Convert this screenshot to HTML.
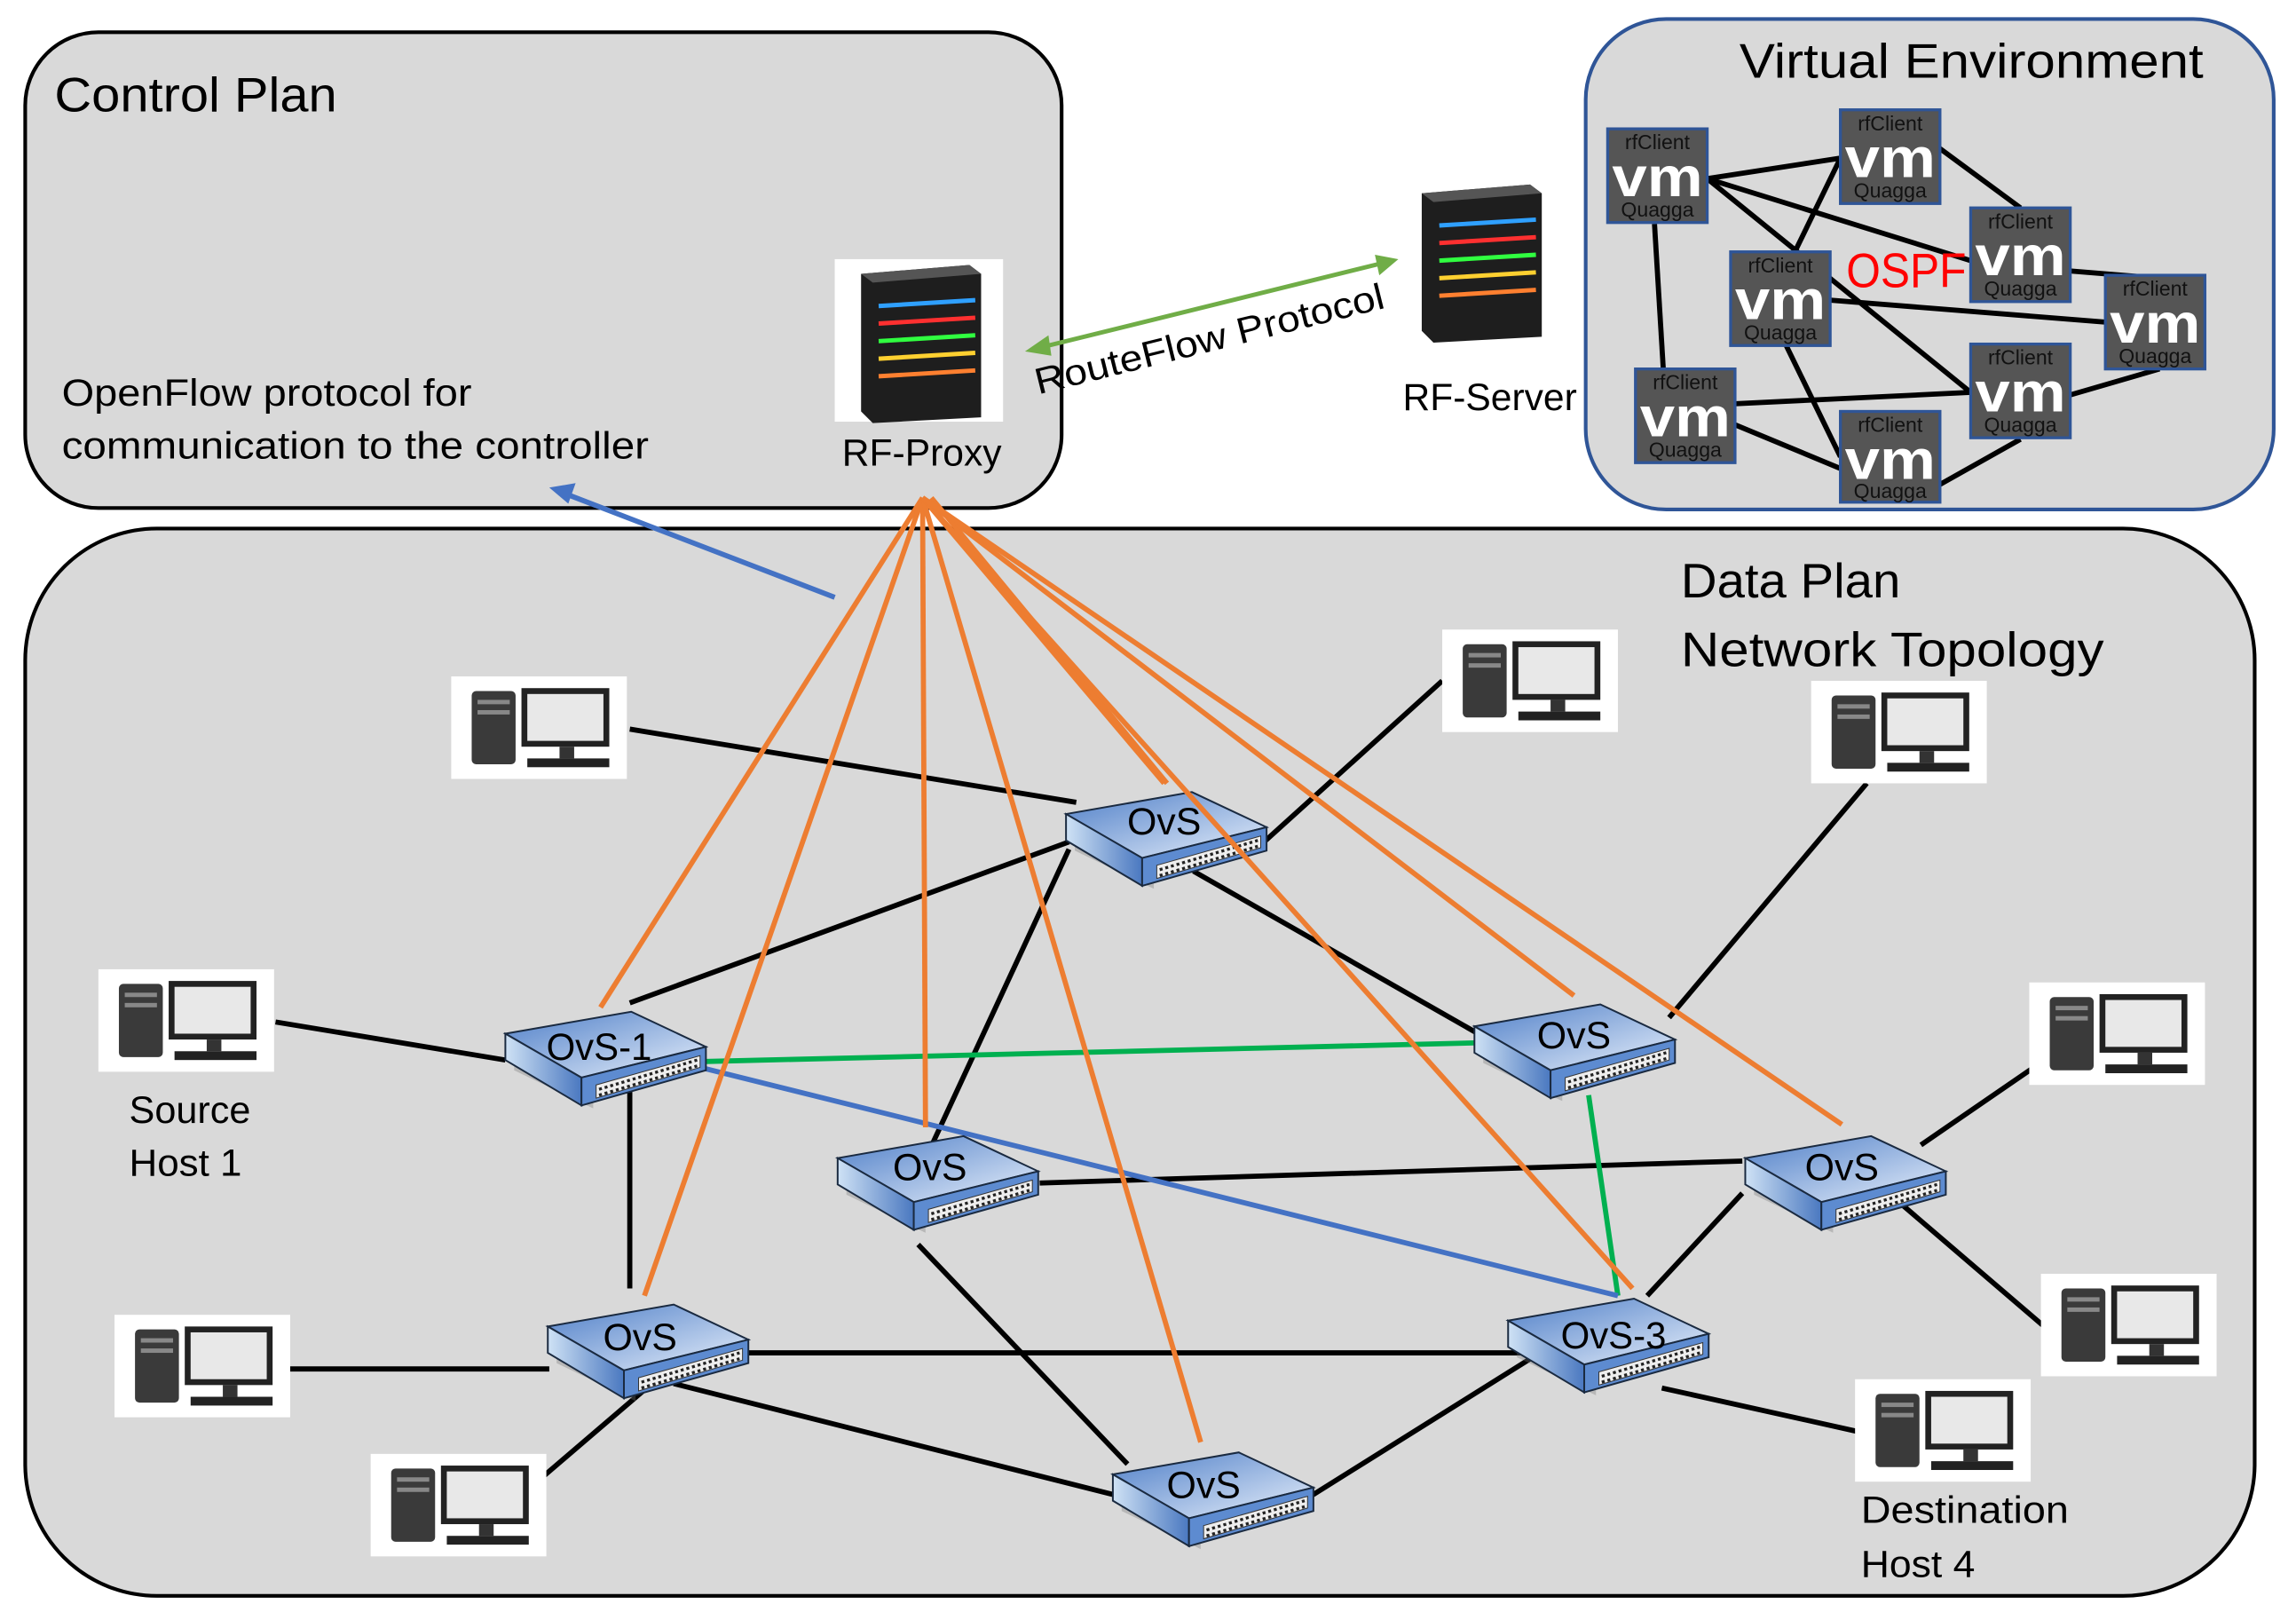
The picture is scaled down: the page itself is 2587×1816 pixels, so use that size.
<!DOCTYPE html>
<html><head><meta charset="utf-8"><style>html,body{margin:0;padding:0;background:#fff}svg{display:block}text{font-family:"Liberation Sans",sans-serif}</style></head>
<body>
<svg width="2587" height="1816" viewBox="0 0 1568 1101" xmlns="http://www.w3.org/2000/svg">
<defs>
<linearGradient id="top" x1="0" y1="0" x2="1" y2="1"><stop offset="0" stop-color="#4f7fc8"/><stop offset="1" stop-color="#e8f0fb"/></linearGradient>
<linearGradient id="side" x1="0" y1="0" x2="1" y2="0"><stop offset="0" stop-color="#cfe2f5"/><stop offset="1" stop-color="#4a78c0"/></linearGradient>
<g id="sw">
<polygon points="6,24 60,56 60,66 6,40" fill="#777" opacity="0.35"/>
<polygon points="0,15 86,0 137,24 52,45" fill="url(#top)" stroke="#1a2a40" stroke-width="1.2"/>
<polygon points="0,15 52,45 52,64 0,33" fill="url(#side)" stroke="#1a2a40" stroke-width="1.2"/>
<polygon points="52,45 137,24 137,40 52,64" fill="#5d8bd0" stroke="#1a2a40" stroke-width="1.2"/>
<polygon points="62,50 133,30 133,38 62,59" fill="#eee" stroke="#333" stroke-width="0.6"/>
<line x1="64" y1="53" x2="131" y2="33" stroke="#222" stroke-width="2" stroke-dasharray="2,2"/>
<line x1="64" y1="57" x2="131" y2="37" stroke="#222" stroke-width="2" stroke-dasharray="2,2"/>
</g>
<g id="host">
<rect x="0" y="0" width="120" height="70" fill="#fff"/>
<rect x="14" y="10" width="30" height="50" rx="3" fill="#3a3a3a"/>
<rect x="18" y="16" width="22" height="3" fill="#888"/><rect x="18" y="23" width="22" height="3" fill="#888"/>
<rect x="48" y="8" width="60" height="40" fill="#222"/>
<rect x="52" y="12" width="52" height="32" fill="#e8e8e8"/>
<rect x="74" y="48" width="10" height="8" fill="#333"/>
<rect x="52" y="56" width="56" height="6" fill="#222"/>
</g>
<g id="srv">
<rect x="0" y="0" width="115" height="111" fill="#fff"/>
<polygon points="18,10 92,4 100,10 100,108 26,112 18,104" fill="#1e1e1e"/>
<polygon points="18,10 92,4 100,10 26,16" fill="#555"/>
<line x1="30" y1="32" x2="96" y2="28" stroke="#2fa0ff" stroke-width="3"/>
<line x1="30" y1="44" x2="96" y2="40" stroke="#ff3030" stroke-width="3"/>
<line x1="30" y1="56" x2="96" y2="52" stroke="#30ff40" stroke-width="3"/>
<line x1="30" y1="68" x2="96" y2="64" stroke="#ffd030" stroke-width="3"/>
<line x1="30" y1="80" x2="96" y2="76" stroke="#ff8030" stroke-width="3"/>
</g>
</defs>
<rect width="1568" height="1101" fill="#fff"/>
<rect x="17" y="22" width="708" height="325" rx="50" fill="#d9d9d9" stroke="#000" stroke-width="2.5"/>
<rect x="1083" y="13" width="470" height="335" rx="55" fill="#d9d9d9" stroke="#2f5597" stroke-width="2.5"/>
<rect x="17" y="361" width="1523" height="729" rx="90" fill="#d9d9d9" stroke="#000" stroke-width="2.5"/>
<text x="37" y="76" font-size="33" textLength="193" lengthAdjust="spacingAndGlyphs">Control Plan</text>
<text x="1188" y="53" font-size="33" textLength="317" lengthAdjust="spacingAndGlyphs">Virtual Environment</text>
<text x="1148" y="408" font-size="33" textLength="150" lengthAdjust="spacingAndGlyphs">Data Plan</text>
<text x="1148" y="455" font-size="33" textLength="289" lengthAdjust="spacingAndGlyphs">Network Topology</text>
<text x="42" y="277" font-size="26" textLength="280" lengthAdjust="spacingAndGlyphs">OpenFlow protocol for</text>
<text x="42" y="313" font-size="26" textLength="401" lengthAdjust="spacingAndGlyphs">communication to the controller</text>
<use href="#srv" x="570" y="177"/>
<text x="575" y="318" font-size="26" textLength="109" lengthAdjust="spacingAndGlyphs">RF-Proxy</text>
<use href="#srv" x="953" y="122"/>
<text x="958" y="280" font-size="26" textLength="119" lengthAdjust="spacingAndGlyphs">RF-Server</text>
<line x1="712" y1="237" x2="943" y2="180" stroke="#70ad47" stroke-width="3"/>
<polygon points="700,240 716,229 718,243" fill="#70ad47"/>
<polygon points="955,177 939,174 942,188" fill="#70ad47"/>
<text x="826" y="240" font-size="25" text-anchor="middle" transform="rotate(-14 826 232)" textLength="245" lengthAdjust="spacingAndGlyphs">RouteFlow Protocol</text>
<g stroke="#000" stroke-width="3.5">
<line x1="1166" y1="122" x2="1257" y2="108"/>
<line x1="1166" y1="122" x2="1346" y2="178"/>
<line x1="1166" y1="122" x2="1346" y2="268"/>
<line x1="1130" y1="153" x2="1136" y2="252"/>
<line x1="1257" y1="108" x2="1222" y2="180"/>
<line x1="1323" y1="100" x2="1380" y2="142"/>
<line x1="1413" y1="185" x2="1475" y2="190"/>
<line x1="1250" y1="205" x2="1438" y2="220"/>
<line x1="1218" y1="232" x2="1257" y2="312"/>
<line x1="1180" y1="276" x2="1346" y2="268"/>
<line x1="1180" y1="288" x2="1257" y2="320"/>
<line x1="1413" y1="270" x2="1475" y2="252"/>
<line x1="1380" y1="300" x2="1323" y2="332"/>
</g>
<g>
<g><rect x="1098" y="88" width="68" height="64" fill="#555" stroke="#2f5597" stroke-width="2"/><text x="1132" y="102" font-size="14" text-anchor="middle" fill="#111">rfClient</text><text x="1132" y="134" font-size="38" font-weight="bold" text-anchor="middle" fill="#fff" textLength="62" lengthAdjust="spacingAndGlyphs">vm</text><text x="1132" y="148" font-size="14" text-anchor="middle" fill="#111">Quagga</text></g>
<g><rect x="1257" y="75" width="68" height="64" fill="#555" stroke="#2f5597" stroke-width="2"/><text x="1291" y="89" font-size="14" text-anchor="middle" fill="#111">rfClient</text><text x="1291" y="121" font-size="38" font-weight="bold" text-anchor="middle" fill="#fff" textLength="62" lengthAdjust="spacingAndGlyphs">vm</text><text x="1291" y="135" font-size="14" text-anchor="middle" fill="#111">Quagga</text></g>
<g><rect x="1346" y="142" width="68" height="64" fill="#555" stroke="#2f5597" stroke-width="2"/><text x="1380" y="156" font-size="14" text-anchor="middle" fill="#111">rfClient</text><text x="1380" y="188" font-size="38" font-weight="bold" text-anchor="middle" fill="#fff" textLength="62" lengthAdjust="spacingAndGlyphs">vm</text><text x="1380" y="202" font-size="14" text-anchor="middle" fill="#111">Quagga</text></g>
<g><rect x="1182" y="172" width="68" height="64" fill="#555" stroke="#2f5597" stroke-width="2"/><text x="1216" y="186" font-size="14" text-anchor="middle" fill="#111">rfClient</text><text x="1216" y="218" font-size="38" font-weight="bold" text-anchor="middle" fill="#fff" textLength="62" lengthAdjust="spacingAndGlyphs">vm</text><text x="1216" y="232" font-size="14" text-anchor="middle" fill="#111">Quagga</text></g>
<g><rect x="1438" y="188" width="68" height="64" fill="#555" stroke="#2f5597" stroke-width="2"/><text x="1472" y="202" font-size="14" text-anchor="middle" fill="#111">rfClient</text><text x="1472" y="234" font-size="38" font-weight="bold" text-anchor="middle" fill="#fff" textLength="62" lengthAdjust="spacingAndGlyphs">vm</text><text x="1472" y="248" font-size="14" text-anchor="middle" fill="#111">Quagga</text></g>
<g><rect x="1117" y="252" width="68" height="64" fill="#555" stroke="#2f5597" stroke-width="2"/><text x="1151" y="266" font-size="14" text-anchor="middle" fill="#111">rfClient</text><text x="1151" y="298" font-size="38" font-weight="bold" text-anchor="middle" fill="#fff" textLength="62" lengthAdjust="spacingAndGlyphs">vm</text><text x="1151" y="312" font-size="14" text-anchor="middle" fill="#111">Quagga</text></g>
<g><rect x="1346" y="235" width="68" height="64" fill="#555" stroke="#2f5597" stroke-width="2"/><text x="1380" y="249" font-size="14" text-anchor="middle" fill="#111">rfClient</text><text x="1380" y="281" font-size="38" font-weight="bold" text-anchor="middle" fill="#fff" textLength="62" lengthAdjust="spacingAndGlyphs">vm</text><text x="1380" y="295" font-size="14" text-anchor="middle" fill="#111">Quagga</text></g>
<g><rect x="1257" y="281" width="68" height="62" fill="#555" stroke="#2f5597" stroke-width="2"/><text x="1291" y="295" font-size="14" text-anchor="middle" fill="#111">rfClient</text><text x="1291" y="327" font-size="38" font-weight="bold" text-anchor="middle" fill="#fff" textLength="62" lengthAdjust="spacingAndGlyphs">vm</text><text x="1291" y="340" font-size="14" text-anchor="middle" fill="#111">Quagga</text></g>
</g>
<text x="1261" y="196" font-size="33" fill="#ff0000" textLength="82" lengthAdjust="spacingAndGlyphs">OSPF</text>
<g stroke="#000" stroke-width="3.5">
<line x1="430" y1="498" x2="735" y2="548"/>
<line x1="860" y1="578" x2="985" y2="465"/>
<line x1="430" y1="685" x2="730" y2="575"/>
<line x1="730" y1="580" x2="635" y2="785"/>
<line x1="815" y1="595" x2="1020" y2="712"/>
<line x1="188" y1="698" x2="345" y2="724"/>
<line x1="430" y1="745" x2="430" y2="880"/>
<line x1="1140" y1="695" x2="1275" y2="535"/>
<line x1="710" y1="808" x2="1190" y2="793"/>
<line x1="1312" y1="782" x2="1395" y2="725"/>
<line x1="1290" y1="815" x2="1395" y2="905"/>
<line x1="1190" y1="815" x2="1125" y2="885"/>
<line x1="627" y1="850" x2="770" y2="1000"/>
<line x1="510" y1="924" x2="1040" y2="924"/>
<line x1="198" y1="935" x2="375" y2="935"/>
<line x1="445" y1="945" x2="355" y2="1022"/>
<line x1="460" y1="945" x2="765" y2="1022"/>
<line x1="895" y1="1022" x2="1050" y2="925"/>
<line x1="1135" y1="948" x2="1270" y2="978"/>
</g>
<g stroke="#00b050" stroke-width="3.5">
<line x1="482" y1="725" x2="1020" y2="712"/>
<line x1="1085" y1="748" x2="1105" y2="885"/>
</g>
<line x1="482" y1="730" x2="1105" y2="885" stroke="#4472c4" stroke-width="3.5"/>
<line x1="570" y1="408" x2="388" y2="338" stroke="#4472c4" stroke-width="3.5"/>
<polygon points="375,333 393,330 388,344" fill="#4472c4"/>
<use href="#host" x="308" y="462"/>
<use href="#host" x="985" y="430"/>
<use href="#host" x="1237" y="465"/>
<use href="#host" x="67" y="662"/>
<use href="#host" x="1386" y="671"/>
<use href="#host" x="78" y="898"/>
<use href="#host" x="1394" y="870"/>
<use href="#host" x="253" y="993"/>
<use href="#host" x="1267" y="942"/>
<use href="#sw" x="345" y="691"/>
<use href="#sw" x="728" y="541"/>
<use href="#sw" x="1007" y="686"/>
<use href="#sw" x="572" y="776"/>
<use href="#sw" x="1192" y="776"/>
<use href="#sw" x="374" y="891"/>
<use href="#sw" x="1030" y="887"/>
<use href="#sw" x="760" y="992"/>
<g stroke="#ed7d31" stroke-width="3.5">
<line x1="630" y1="340" x2="410" y2="688"/>
<line x1="630" y1="340" x2="440" y2="885"/>
<line x1="630" y1="340" x2="632" y2="770"/>
<line x1="630" y1="340" x2="820" y2="985"/>
<line x1="630" y1="340" x2="795" y2="535"/>
<line x1="636" y1="340" x2="797" y2="535"/>
<line x1="630" y1="340" x2="1115" y2="880"/>
<line x1="630" y1="340" x2="1075" y2="680"/>
<line x1="630" y1="340" x2="1258" y2="768"/>
</g>
<g font-size="26" text-anchor="middle" fill="#000">
<text x="409" y="724" textLength="72" lengthAdjust="spacingAndGlyphs">OvS-1</text>
<text x="795" y="570">OvS</text>
<text x="1075" y="716">OvS</text>
<text x="635" y="806">OvS</text>
<text x="1258" y="806">OvS</text>
<text x="437" y="922">OvS</text>
<text x="1102" y="921" textLength="72" lengthAdjust="spacingAndGlyphs">OvS-3</text>
<text x="822" y="1023">OvS</text>
</g>
<g font-size="26">
<text x="88" y="767" textLength="83" lengthAdjust="spacingAndGlyphs">Source</text>
<text x="88" y="803" textLength="77" lengthAdjust="spacingAndGlyphs">Host 1</text>
<text x="1271" y="1040" textLength="142" lengthAdjust="spacingAndGlyphs">Destination</text>
<text x="1271" y="1077" textLength="78" lengthAdjust="spacingAndGlyphs">Host 4</text>
</g>
</svg>
</body></html>
